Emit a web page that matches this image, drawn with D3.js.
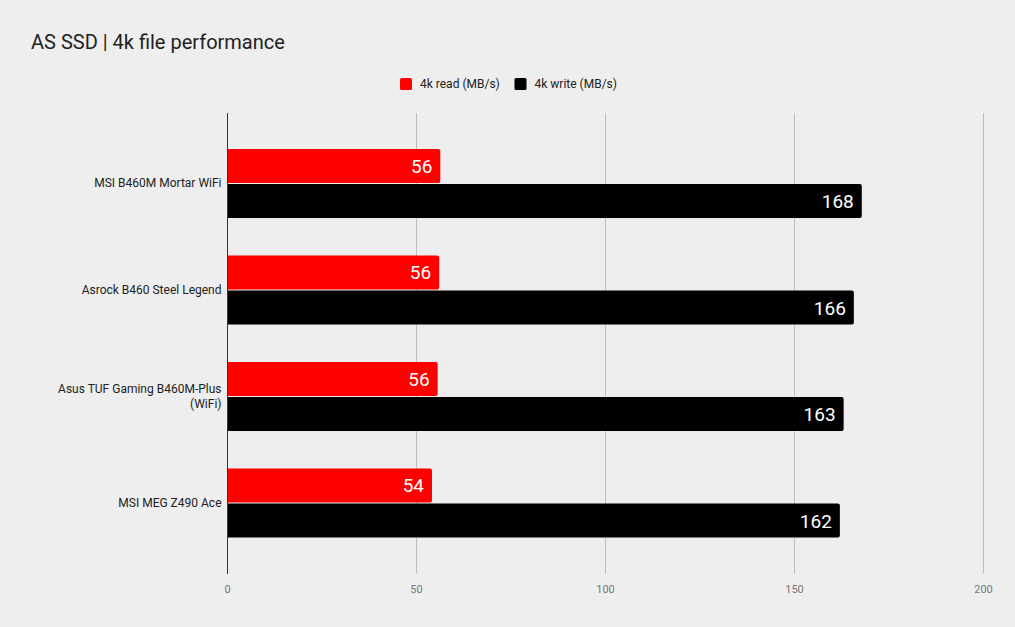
<!DOCTYPE html>
<html><head><meta charset="utf-8">
<script src="https://cdn.jsdelivr.net/npm/d3@7"></script>
<style>
html,body{margin:0;padding:0;background:#eeeeee;}
svg{display:block;font-family:Roboto, "Noto Sans", sans-serif;}
</style></head>
<body>
<script>
const categories = [["MSI B460M Mortar WiFi"], ["Asrock B460 Steel Legend"], ["Asus TUF Gaming B460M-Plus", "(WiFi)"], ["MSI MEG Z490 Ace"]];
const seriesNames = ["4k read (MB/s)", "4k write (MB/s)"];
const readValues = [56.3, 56.0, 55.6, 54.1];
const writeValues = [167.8, 165.7, 163.0, 162.0];
const colors = ["#ff0000", "#000000"];
const xTicks = [0, 50, 100, 150, 200];

const W = 1015, H = 627;
const svg = d3.select("body").append("svg").attr("width", W).attr("height", H);
svg.append("rect").attr("width", W).attr("height", H).attr("fill", "#eeeeee");

const plotTop = 113, plotBottom = 574;
const x = d3.scaleLinear().domain([0, 200]).range([227.5, 983.5]);
const catKeys = categories.map(c => c.join(" "));
const y0 = d3.scaleBand().domain(catKeys).range([130.25, 556.25]).paddingInner(0.352).paddingOuter(0.176);
const y1 = d3.scaleBand().domain(seriesNames).range([0, y0.bandwidth()]).paddingInner(0.03);

// title
svg.append("text").attr("x", 31).attr("y", 49).attr("font-size", 20).attr("fill", "#222").text("AS SSD | 4k file performance");

// legend
const legend = svg.append("g");
const legendX = [400, 514.5];
seriesNames.forEach((s, i) => {
  legend.append("rect").attr("x", legendX[i]).attr("y", 78).attr("width", 12).attr("height", 12).attr("rx", 1.5).attr("fill", colors[i]);
  legend.append("text").attr("x", legendX[i] + 20).attr("y", 88).attr("font-size", 12).attr("fill", "#222").text(s);
});

// gridlines
svg.append("g").selectAll("line").data(xTicks.filter(t => t > 0)).join("line")
  .attr("x1", d => x(d)).attr("x2", d => x(d)).attr("y1", plotTop).attr("y2", plotBottom)
  .attr("stroke", "#bdbdbd").attr("stroke-width", 1);

// tick labels
svg.append("g").selectAll("text").data(xTicks).join("text")
  .attr("x", d => x(d)).attr("y", 593).attr("text-anchor", "middle")
  .attr("font-size", 11).attr("fill", "#777").text(d => d);

// bars
const data = categories.map((c, i) => ({key: catKeys[i], lines: c, vals: [readValues[i], writeValues[i]]}));
const groups = svg.append("g").selectAll("g").data(data).join("g")
  .attr("transform", d => `translate(0,${y0(d.key)})`);

groups.each(function(d) {
  const g = d3.select(this);
  d.vals.forEach((v, i) => {
    const yy = y1(seriesNames[i]);
    const bh = y1.bandwidth();
    g.append("path")
      .attr("d", `M${x(0)},${yy} H${x(v)-2} Q${x(v)},${yy} ${x(v)},${yy+2} V${yy+bh-2} Q${x(v)},${yy+bh} ${x(v)-2},${yy+bh} H${x(0)} Z`)
      .attr("fill", colors[i]);
    g.append("text").attr("x", x(v) - 8).attr("y", yy + bh/2 + 7)
      .attr("text-anchor", "end").attr("font-size", 19).attr("fill", "#ffffff")
      .text(Math.round(v));
  });
  const cy = y0.bandwidth()/2;
  const n = d.lines.length;
  d.lines.forEach((ln, j) => {
    g.append("text").attr("x", 221.5).attr("y", cy + 4 + (j - (n-1)/2) * 15)
      .attr("text-anchor", "end").attr("font-size", 12).attr("fill", "#222").text(ln);
  });
});

// zero axis line
svg.append("line").attr("x1", x(0)).attr("x2", x(0)).attr("y1", plotTop).attr("y2", plotBottom)
  .attr("stroke", "#333").attr("stroke-width", 1);
</script>
</body></html>
